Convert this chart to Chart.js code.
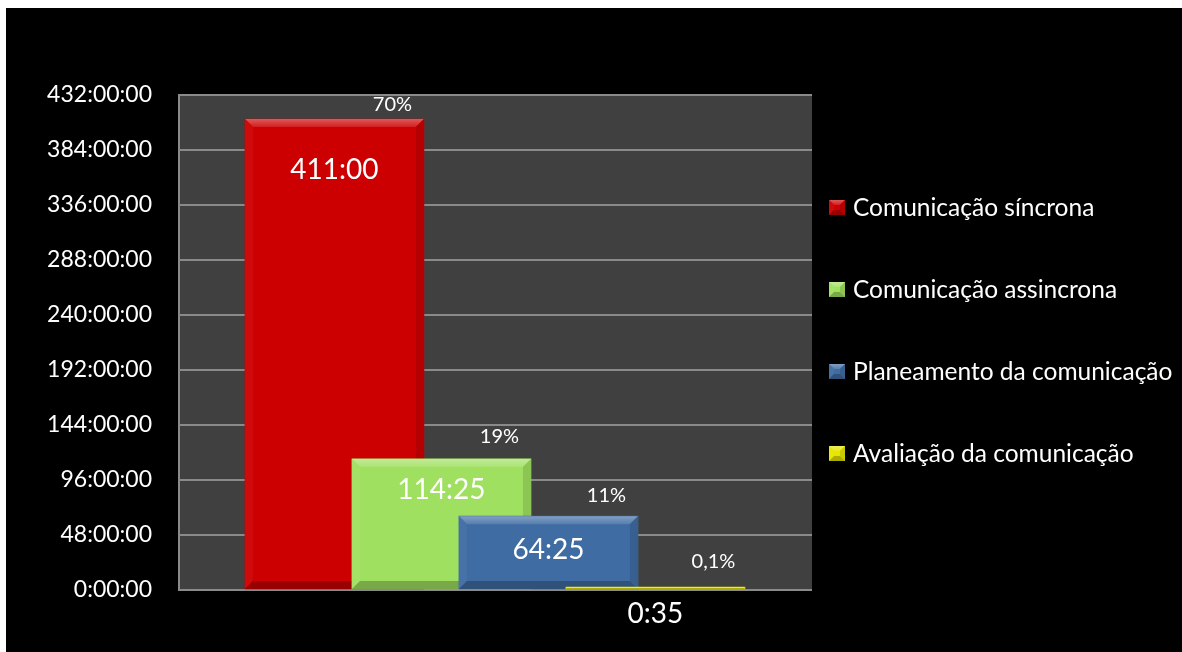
<!DOCTYPE html>
<html lang="pt">
<head>
<meta charset="utf-8">
<title>Tempo de comunicação</title>
<script src="https://cdn.jsdelivr.net/npm/chart.js@4.4.1/dist/chart.umd.min.js"></script>
<style>
	html, body { margin: 0; padding: 0; background: #fff; }
	#wrap { position: absolute; left: 6px; top: 8px; width: 1176px; height: 644px; background: #000; }
</style>
</head>
<body>
<div id="wrap"><canvas id="timeChart"></canvas></div>
<script>
// ─── Dados ─────────────────────────────────────
const categories = ["Comunicação síncrona", "Comunicação assincrona", "Planeamento da comunicação", "Avaliação da comunicação"];
// duração em minutos: 411:00, 114:25, 64:25, 0:35
const durations = [24660, 6865, 3865, 35];
const shares = ["70%", "19%", "11%", "0,1%"];
// marcas do eixo, em horas
const tickHours = [0, 48, 96, 144, 192, 240, 288, 336, 384, 432];

// ─── Estilo ────────────────────────────────────
const seriesColors = ["#cc0000", "#a0e060", "#3f6ca3", "#e6e600"];
const FONT = "Lato, 'Open Sans', sans-serif";
const GRID = "#8a8a8a";
const PLOT_BG = "#404040";

const fmtHM = (m) => `${Math.floor(m / 60)}:${String(m % 60).padStart(2, "0")}`;

function mix(hex, target, amt) {
	const p = (h) => [1, 3, 5].map((k) => parseInt(h.slice(k, k + 2), 16));
	const a = p(hex), b = p(target);
	return `rgb(${a.map((v, i) => Math.round(v + (b[i] - v) * amt)).join(",")})`;
}

// bisel tipo Excel: faixa clara em cima, lados e base mais escuros
function drawBevel(ctx, l, t, r, b, color, size) {
	const s = Math.max(0, Math.min(size, (b - t) / 2, (r - l) / 2));
	const poly = (pts, fill) => {
		ctx.beginPath();
		ctx.moveTo(pts[0][0], pts[0][1]);
		pts.slice(1).forEach((p) => ctx.lineTo(p[0], p[1]));
		ctx.closePath();
		ctx.fillStyle = fill;
		ctx.fill();
	};
	ctx.save();
	ctx.fillStyle = color;
	ctx.fillRect(l, t, r - l, b - t);
	const g = ctx.createLinearGradient(0, t, 0, t + s);
	g.addColorStop(0, mix(color, "#ffffff", 0.35));
	g.addColorStop(1, mix(color, "#ffffff", 0.12));
	poly([[l, t], [r, t], [r - s, t + s], [l + s, t + s]], g);
	poly([[l, t], [l + s, t + s], [l + s, b - s], [l, b]], mix(color, "#ffffff", 0.04));
	poly([[r, t], [r, b], [r - s, b - s], [r - s, t + s]], mix(color, "#000000", 0.12));
	poly([[l, b], [r, b], [r - s, b - s], [l + s, b - s]], mix(color, "#000000", 0.25));
	ctx.restore();
}

// ─── Plugins ───────────────────────────────────
const plotBackground = {
	id: "plotBackground",
	beforeDraw(chart) {
		const { ctx, chartArea: a } = chart;
		ctx.save();
		ctx.fillStyle = "#000";
		ctx.fillRect(0, 0, chart.width, chart.height);
		ctx.fillStyle = PLOT_BG;
		ctx.fillRect(a.left, a.top, a.right - a.left, a.bottom - a.top);
		ctx.restore();
	},
};

const bevelBars = {
	id: "bevelBars",
	afterDatasetDraw(chart, args) {
		const ctx = chart.ctx;
		const color = seriesColors[args.index];
		args.meta.data.forEach((el) => {
			const { x, y, base, width } = el.getProps(["x", "y", "base", "width"], true);
			drawBevel(ctx, x - width / 2, Math.min(y, base), x + width / 2, Math.max(y, base), color, 8);
		});
	},
};

const barLabels = {
	id: "barLabels",
	afterDatasetsDraw(chart, args, opts) {
		const { ctx } = chart;
		const yScale = chart.scales.y;
		ctx.save();
		ctx.fillStyle = "#fff";
		ctx.textAlign = "center";
		ctx.textBaseline = "middle";
		chart.data.datasets.forEach((ds, i) => {
			const el = chart.getDatasetMeta(i).data[0];
			const top = yScale.getPixelForValue(durations[i]);
			ctx.font = `28px ${FONT}`;
			ctx.fillText(fmtHM(durations[i]), el.x, top + opts.valueOffset[i]);
			ctx.font = `20px ${FONT}`;
			ctx.fillText(shares[i], el.x + opts.shareShift, top + opts.shareOffset[i]);
		});
		ctx.restore();
	},
};

const sideLegend = {
	id: "sideLegend",
	afterDraw(chart, args, opts) {
		const { ctx } = chart;
		ctx.save();
		ctx.font = `24.5px ${FONT}`;
		ctx.textAlign = "left";
		ctx.textBaseline = "middle";
		chart.data.datasets.forEach((ds, i) => {
			const cy = opts.top + i * opts.step;
			drawBevel(ctx, opts.left, cy - 7, opts.left + 16, cy + 8, seriesColors[i], 5);
			ctx.fillStyle = "#fff";
			ctx.fillText(ds.label, opts.left + 24, cy + 1);
		});
		ctx.restore();
	},
};

// ─── Gráfico ───────────────────────────────────
const chart = new Chart(document.getElementById("timeChart"), {
	type: "bar",
	data: {
		datasets: categories.map((label, i) => ({
			label,
			data: [{ x: i + 1, y: durations[i] }],
			backgroundColor: seriesColors[i],
			barThickness: 179,
			grouped: false,
			minBarLength: 3,
			order: categories.length - i,
		})),
	},
	options: {
		responsive: true,
		maintainAspectRatio: false,
		animation: false,
		layout: { padding: { top: 87, right: 370, bottom: 62, left: 0 } },
		plugins: {
			legend: { display: false },
			tooltip: { enabled: false },
			barLabels: { valueOffset: [51, 31, 34, 25], shareOffset: [-15, -22, -21, -28], shareShift: 58 },
			sideLegend: { left: 823, top: 199, step: 82 },
		},
		scales: {
			x: { type: "linear", offset: false, min: -0.453, max: 5.463, display: false },
			y: {
				min: 0,
				max: tickHours[tickHours.length - 1] * 60,
				afterFit: (s) => { s.width = 173; },
				afterBuildTicks: (s) => { s.ticks = tickHours.map((h) => ({ value: h * 60 })); },
				ticks: {
					color: "#fff",
					padding: 27,
					font: { family: FONT, size: 23 },
					callback: (v) => `${v / 60}:00:00`,
				},
				grid: { color: GRID, lineWidth: 2, drawTicks: false },
				border: { color: GRID, width: 2 },
			},
		},
	},
	plugins: [plotBackground, bevelBars, barLabels, sideLegend],
});
</script>
</body>
</html>
